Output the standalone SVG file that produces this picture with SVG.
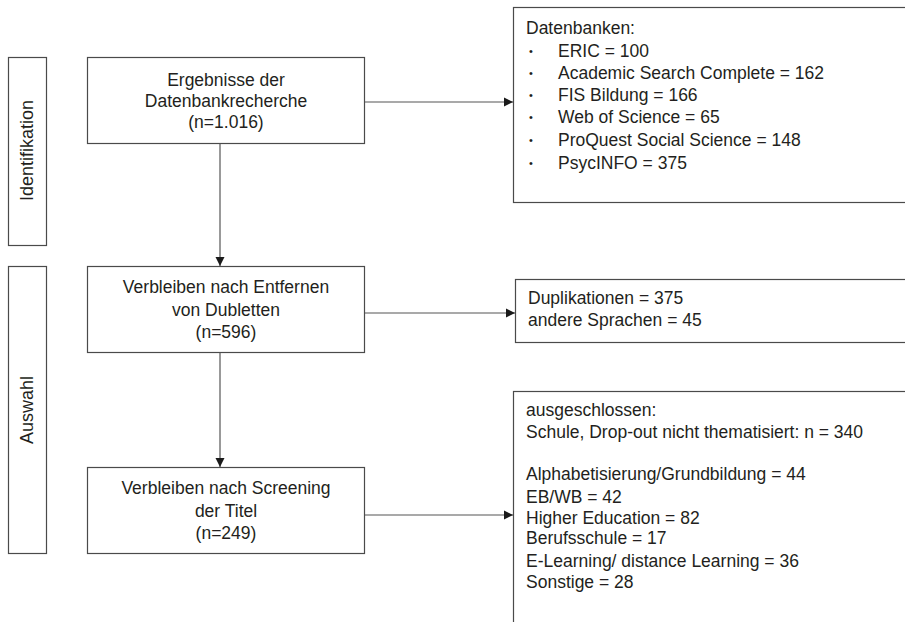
<svg xmlns="http://www.w3.org/2000/svg" width="905" height="622" viewBox="0 0 905 622">
<defs>
<marker id="ah" markerWidth="10" markerHeight="10" refX="9" refY="5" orient="auto" markerUnits="userSpaceOnUse">
<path d="M0,0.5 L9,5 L0,9.5 Z" fill="#1a1a1a"/>
</marker>
<style>
.box{fill:#fff;stroke:#4a4a4a;stroke-width:1.2}
.t{font-family:"Liberation Sans",Arial,sans-serif;font-size:17.5px;fill:#231f20}
.c{text-anchor:middle}
.b{font-family:"Liberation Sans",Arial,sans-serif;font-size:11px;fill:#231f20}
.side{font-family:"Liberation Sans",Arial,sans-serif;font-size:18px;fill:#231f20;text-anchor:middle}
.ln{stroke:#555;stroke-width:1.2;fill:none}
</style>
</defs>
<rect width="905" height="622" fill="#fff"/>

<g id="phase-identifikation">
<rect class="box" x="8.5" y="57.5" width="38" height="188"/>
<text class="side" transform="translate(33,150.5) rotate(-90)">Identifikation</text>
</g>
<g id="phase-auswahl">
<rect class="box" x="8.5" y="266.5" width="38" height="287"/>
<text class="side" transform="translate(33,410) rotate(-90)">Auswahl</text>
</g>

<g id="n1">
<rect class="box" x="87.5" y="57.5" width="277" height="86"/>
<text class="t c" x="226" y="86">Ergebnisse der</text>
<text class="t c" x="226" y="107">Datenbankrecherche</text>
<text class="t c" x="226" y="128">(n=1.016)</text>
</g>
<g id="n2">
<rect class="box" x="87.5" y="266.5" width="277" height="86"/>
<text class="t c" x="226" y="293">Verbleiben nach Entfernen</text>
<text class="t c" x="226" y="316">von Dubletten</text>
<text class="t c" x="226" y="338">(n=596)</text>
</g>
<g id="n3">
<rect class="box" x="87.5" y="467.5" width="277" height="86"/>
<text class="t c" x="226" y="494">Verbleiben nach Screening</text>
<text class="t c" x="226" y="517">der Titel</text>
<text class="t c" x="226" y="539">(n=249)</text>
</g>

<g id="datenbanken">
<rect class="box" x="513.5" y="7.5" width="400" height="195"/>
<text class="t" x="526" y="34">Datenbanken:</text>
<g class="b">
<text x="529" y="55">•</text>
<text x="529" y="77">•</text>
<text x="529" y="99">•</text>
<text x="529" y="121">•</text>
<text x="529" y="144">•</text>
<text x="529" y="167">•</text>
</g>
<g class="t">
<text x="558" y="57">ERIC = 100</text>
<text x="558" y="79">Academic Search Complete = 162</text>
<text x="558" y="101">FIS Bildung = 166</text>
<text x="558" y="123">Web of Science = 65</text>
<text x="558" y="146">ProQuest Social Science = 148</text>
<text x="558" y="169">PsycINFO = 375</text>
</g>
</g>

<g id="duplikationen">
<rect class="box" x="515.5" y="279.5" width="400" height="63"/>
<text class="t" x="528" y="304">Duplikationen = 375</text>
<text class="t" x="528" y="326">andere Sprachen = 45</text>
</g>

<g id="ausgeschlossen">
<rect class="box" x="513.5" y="391.5" width="400" height="260"/>
<g class="t">
<text x="526" y="416">ausgeschlossen:</text>
<text x="526" y="438">Schule, Drop-out nicht thematisiert: n = 340</text>
<text x="526" y="480">Alphabetisierung/Grundbildung = 44</text>
<text x="526" y="503">EB/WB = 42</text>
<text x="526" y="524">Higher Education = 82</text>
<text x="526" y="544">Berufsschule = 17</text>
<text x="526" y="567">E-Learning/ distance Learning = 36</text>
<text x="526" y="588">Sonstige = 28</text>
</g>
</g>

<g id="connectors">
<line class="ln" x1="365" y1="102" x2="513" y2="102" marker-end="url(#ah)"/>
<line class="ln" x1="220" y1="143.5" x2="220" y2="266" marker-end="url(#ah)"/>
<line class="ln" x1="365" y1="313" x2="515" y2="313" marker-end="url(#ah)"/>
<line class="ln" x1="220" y1="352.5" x2="220" y2="467" marker-end="url(#ah)"/>
<line class="ln" x1="365" y1="515" x2="513" y2="515" marker-end="url(#ah)"/>
</g>
</svg>
